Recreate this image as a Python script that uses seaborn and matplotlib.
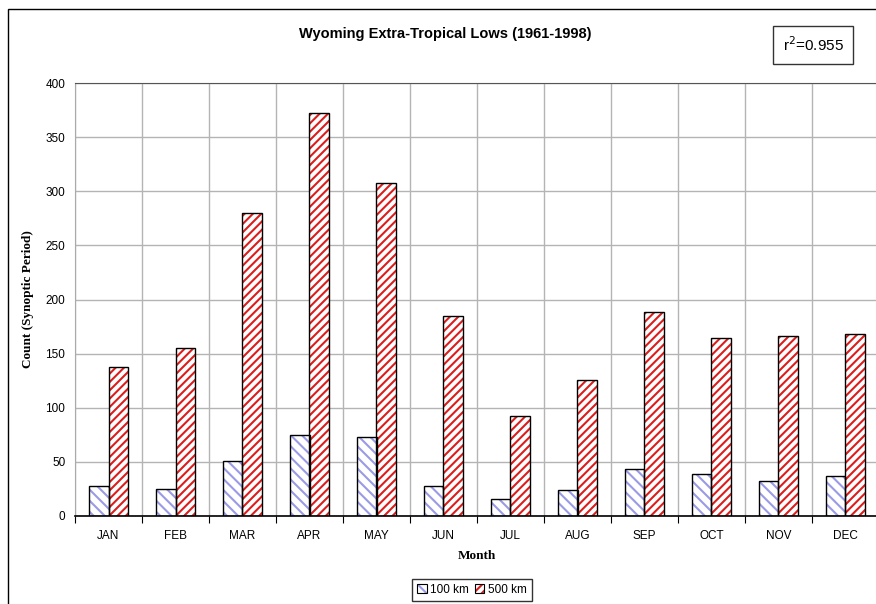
import matplotlib
matplotlib.use("Agg")
import matplotlib.pyplot as plt
from matplotlib.patches import Rectangle, Patch
from matplotlib.legend_handler import HandlerTuple
import seaborn as sns
import pandas as pd

months = ['JAN', 'FEB', 'MAR', 'APR', 'MAY', 'JUN',
          'JUL', 'AUG', 'SEP', 'OCT', 'NOV', 'DEC']
count_100km = [28, 25, 51, 75, 73, 28, 16, 24, 43, 39, 32, 37]
count_500km = [138, 155, 280, 372, 308, 185, 92, 126, 188, 164, 166, 168]
series = ['100 km', '500 km']
yticks = [0, 50, 100, 150, 200, 250, 300, 350, 400]

df = pd.DataFrame({
    'Month': months * 2,
    'Count': count_100km + count_500km,
    'Radius': [series[0]] * 12 + [series[1]] * 12,
})

sns.set_style('white')
plt.rcParams['font.family'] = ['Liberation Sans', 'DejaVu Sans']
plt.rcParams['hatch.linewidth'] = 1.5
plt.rcParams['text.color'] = 'black'
plt.rcParams['axes.labelcolor'] = 'black'
plt.rcParams['xtick.color'] = 'black'
plt.rcParams['ytick.color'] = 'black'

fig = plt.figure(figsize=(8.76, 6.04), dpi=100)
ax = fig.add_axes([75 / 876, 1 - 516 / 604, 804 / 876, 433 / 604])

sns.barplot(data=df, x='Month', y='Count', hue='Radius', order=months,
            hue_order=series, palette=['white', 'white'], width=0.57,
            legend=False, ax=ax)

hatch_cols = ['#9a9ae6', '#dd1c1c']
hatches = ['\\\\\\', '////']
handles = []
for cont, hc, h in zip(ax.containers, hatch_cols, hatches):
    for bar in cont:
        bar.set_hatch(h)
        bar.set_edgecolor(hc)
        bar.set_linewidth(0)
        ax.add_patch(Rectangle(bar.get_xy(), bar.get_width(), bar.get_height(),
                               fill=False, edgecolor='black', linewidth=1.0, zorder=3))
    handles.append((Patch(facecolor='white', edgecolor=hc, hatch=h, linewidth=0),
                    Patch(fill=False, edgecolor='black', linewidth=0.8)))

ax.set_ylim(0, 400)
ax.set_xlim(-0.5, 11.5)
ax.set_yticks(yticks)
ax.tick_params(axis='y', length=5, width=0.8, labelsize=8.5, pad=2)
ax.set_xticks(range(12))
ax.set_xticklabels(months)
ax.set_xticks([i - 0.5 for i in range(13)], minor=True)
ax.tick_params(axis='x', which='major', length=0, labelsize=8.5, pad=10)
ax.tick_params(axis='x', which='minor', length=5, width=0.8, bottom=True)
ax.grid(axis='y', color='#b4b4b4', linewidth=1.0)
ax.grid(axis='x', which='minor', color='#b4b4b4', linewidth=1.0)
ax.set_axisbelow(True)

ax.spines['right'].set_visible(False)
ax.spines['top'].set_color('#555555')
ax.spines['left'].set_color('#aaaaaa')
ax.spines['bottom'].set_color('black')
ax.spines['bottom'].set_linewidth(1.2)

ax.set_xlabel('Month', fontsize=9.5, fontweight='bold', family='Liberation Serif', labelpad=6)
ax.set_ylabel('Count (Synoptic Period)', fontsize=9.5, fontweight='bold',
              family='Liberation Serif', labelpad=8)

fig.text(445 / 876, 1 - 34 / 604, 'Wyoming Extra-Tropical Lows (1961-1998)',
         ha='center', va='center', fontsize=10.5, fontweight='bold')
fig.text(813 / 876, 1 - 45 / 604, r'r$^2$=0.955', ha='center', va='center',
         fontsize=11, bbox=dict(boxstyle='square,pad=0.6', fc='white', ec='#333333', lw=1.0))

fig.legend(handles, series, handler_map={tuple: HandlerTuple(ndivide=1)},
           loc='center', bbox_to_anchor=(472 / 876, 1 - 590 / 604), ncol=2,
           fontsize=8.5, handlelength=0.8, handleheight=0.8, handletextpad=0.3,
           columnspacing=0.5, borderpad=0.4, fancybox=False, frameon=True,
           edgecolor='#333333', framealpha=1)

fig.add_artist(Rectangle((8 / 876, -0.1), 1.2, 0.1 + (604 - 9) / 604,
                         transform=fig.transFigure, fill=False,
                         edgecolor='black', linewidth=1.0))

fig.savefig('out.png', dpi=100)
